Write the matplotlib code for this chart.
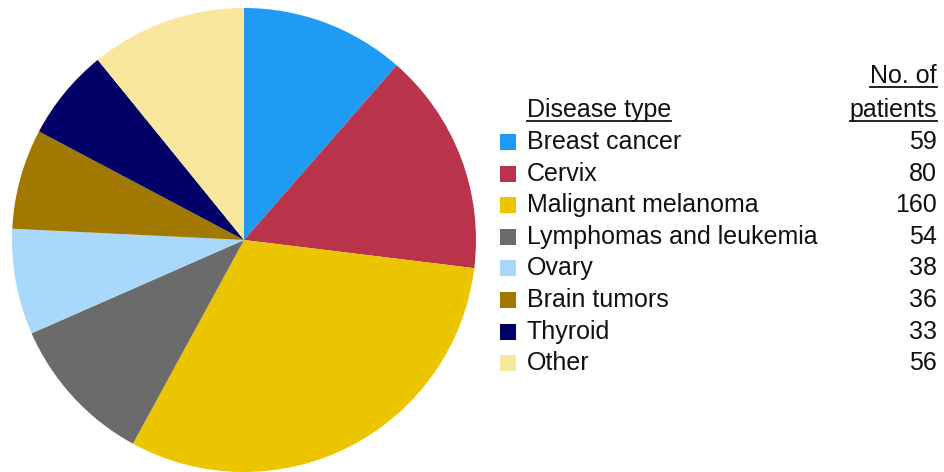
import matplotlib
matplotlib.use("Agg")
import matplotlib.pyplot as plt
from matplotlib.patches import Rectangle
from matplotlib.lines import Line2D

# Patient counts per disease type
diseases = ["Breast cancer", "Cervix", "Malignant melanoma",
            "Lymphomas and leukemia", "Ovary", "Brain tumors",
            "Thyroid", "Other"]
patients = [59, 80, 160, 54, 38, 36, 33, 56]
colors = ["#1F9BF3", "#B9334B", "#EBC500", "#6B6B6B",
          "#A9D9FA", "#A17900", "#020066", "#F9E79E"]

plt.rcParams["font.family"] = ["Liberation Sans", "DejaVu Sans"]

W, H = 945, 472
fig = plt.figure(figsize=(W / 100, H / 100), dpi=100)
fig.patch.set_facecolor("white")


def fx(px):
    return px / W


def fy(py):
    return 1 - py / H


# pie placed by pixel centre and radius
cx, cy, r = 244, 240, 232
ax = fig.add_axes([fx(cx - r), fy(cy + r), 2 * r / W, 2 * r / H])
ax.pie(patients, colors=colors, startangle=90, counterclock=False,
       radius=1, wedgeprops=dict(linewidth=0))
ax.set_xlim(-1, 1)
ax.set_ylim(-1, 1)
ax.axis("off")

txt_col = "#111111"
fs = 18
x_sq, sq = 500, 16
x_txt, x_num = 527, 937
row0, step = 142, 31.6

for i, (name, n, c) in enumerate(zip(diseases, patients, colors)):
    y = row0 + i * step
    fig.patches.append(Rectangle((fx(x_sq), fy(y + sq / 2)), sq / W, sq / H,
                                 transform=fig.transFigure, facecolor=c,
                                 edgecolor="none"))
    fig.text(fx(x_txt), fy(y), name, fontsize=fs, color=txt_col,
             ha="left", va="center")
    fig.text(fx(x_num), fy(y), str(n), fontsize=fs, color=txt_col,
             ha="right", va="center")

# underlined column headers
headers = [("Disease type", x_txt, 117, "left"),
           ("patients", x_num, 117, "right"),
           ("No. of", x_num, 83, "right")]
fig.canvas.draw()
renderer = fig.canvas.get_renderer()
for label, x, yb, ha in headers:
    t = fig.text(fx(x), fy(yb), label, fontsize=fs, color=txt_col,
                 ha=ha, va="baseline")
    bb = t.get_window_extent(renderer)
    uy = fy(yb + 3.5)
    fig.lines.append(Line2D([bb.x0 / W, bb.x1 / W], [uy, uy],
                            transform=fig.transFigure, color=txt_col,
                            linewidth=1.3))

fig.savefig("out.png", dpi=100, facecolor="white")
